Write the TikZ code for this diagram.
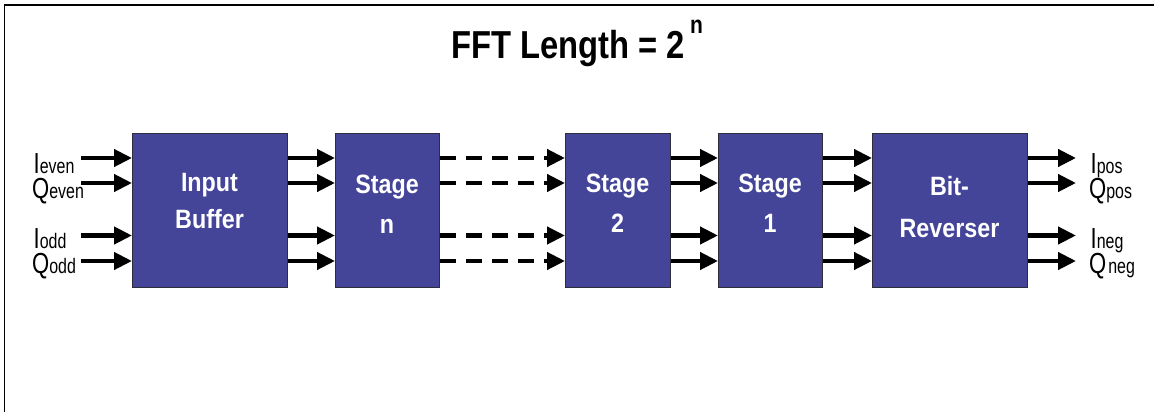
\documentclass[tikz,border=0pt]{standalone}
\usepackage{fontspec}
\setmainfont{Liberation Sans}
\newfontfamily\titlefont[FakeStretch=0.84]{Liberation Sans}
\newfontfamily\boxfont[FakeStretch=0.88]{Liberation Sans}
\newfontfamily\portfont[FakeStretch=0.76]{Liberation Sans}
\usetikzlibrary{arrows.meta}
\definecolor{blockfill}{RGB}{68,68,153}
\definecolor{blockedge}{RGB}{45,45,60}
% port label: large letter followed by a small tag on the same baseline
\newcommand\portlbl[2]{{\fontsize{29}{29}\selectfont #1}{\fontsize{21}{21}\selectfont #2}}
\tikzset{
  block/.style={draw=blockedge, line width=1pt, fill=blockfill,
    minimum height=154pt, inner sep=0pt, anchor=north west},
  blocktext/.style={text=white, font=\boxfont\bfseries\fontsize{26.5}{30}\selectfont,
    anchor=base, inner sep=0pt},
  port/.style={font=\portfont, anchor=base west, inner sep=0pt},
  sig/.style={line width=4.2pt, -{Triangle[length=18pt,width=17pt]}},
  sigdash/.style={sig, dash pattern=on 16pt off 10pt},
}
\begin{document}
\begin{tikzpicture}[x=1pt,y=-1pt]
\useasboundingbox (0,0) rectangle (1154,412);
% outer frame (top and left edges)
\draw[line width=1.5pt] (4.5,412) -- (4.5,5) -- (1154,5);

% title
\node[anchor=base west, inner sep=0pt,
  font=\titlefont\bfseries\fontsize{39}{39}\selectfont] (title) at (451,58.5)
  {FFT Length = 2\hspace{5pt}\raisebox{25pt}{\fontsize{25}{25}\selectfont n}};

% processing blocks
\node[block, minimum width=155pt] (ib) at (132,133) {};
\node[block, minimum width=104pt] (sn) at (335,133) {};
\node[block, minimum width=105pt] (s2) at (565,133) {};
\node[block, minimum width=104pt] (s1) at (718,133) {};
\node[block, minimum width=155pt] (br) at (872,133) {};

% block captions
\node[blocktext] (ib-a) at (209.5,191) {Input};
\node[blocktext] (ib-b) at (209.5,228) {Buffer};
\node[blocktext] (sn-a) at (387,193) {Stage};
\node[blocktext] (sn-b) at (387,233) {n};
\node[blocktext] (s2-a) at (617.5,192) {Stage};
\node[blocktext] (s2-b) at (617.5,232) {2};
\node[blocktext] (s1-a) at (770,192) {Stage};
\node[blocktext] (s1-b) at (770,232) {1};
\node[blocktext] (br-a) at (949.5,195) {Bit-};
\node[blocktext] (br-b) at (949.5,237) {Reverser};

% signal rows
\coordinate (r1) at (0,158);
\coordinate (r2) at (0,183);
\coordinate (r3) at (0,235.5);
\coordinate (r4) at (0,261);

% input and output ends
\coordinate (in1) at (81,158);
\coordinate (in2) at (81,183);
\coordinate (in3) at (81,235.5);
\coordinate (in4) at (81,261);
\coordinate (out1) at (1076,158);
\coordinate (out2) at (1076,183);
\coordinate (out3) at (1076,235.5);
\coordinate (out4) at (1076,261);

% connections
\foreach \r in {1,2,3,4}{
  \draw[sig] (in\r) -- (ib.west |- r\r);
  \draw[sig] (ib.east |- r\r) -- (sn.west |- r\r);
  \draw[sigdash] (sn.east |- r\r) -- (s2.west |- r\r);
  \draw[sig] (s2.east |- r\r) -- (s1.west |- r\r);
  \draw[sig] (s1.east |- r\r) -- (br.west |- r\r);
  \draw[sig] (br.east |- r\r) -- (out\r);
}

% port labels
\node[port] (l-ie) at (33.5,173) {\portlbl{I}{even}};
\node[port] (l-qe) at (32,198) {\portlbl{Q}{even}};
\node[port] (l-io) at (33.5,248) {\portlbl{I}{odd}};
\node[port] (l-qo) at (32,273) {\portlbl{Q}{odd}};
\node[port] (l-ip) at (1090.5,173) {\portlbl{I}{pos}};
\node[port] (l-qp) at (1089,198) {\portlbl{Q}{pos}};
\node[port] (l-in) at (1090.5,248) {\portlbl{I}{neg}};
\node[port] (l-qn) at (1089,273) {\portlbl{Q}{\hspace{2pt}neg}};
\end{tikzpicture}
\end{document}
